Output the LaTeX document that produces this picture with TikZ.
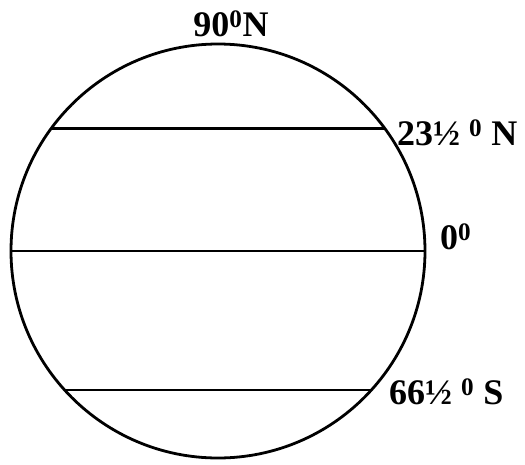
\documentclass[tikz,border=0pt]{standalone}
\usepackage{fontspec}
\setmainfont{Liberation Serif}
\usetikzlibrary{calc}

\begin{document}
\begin{tikzpicture}[x=1pt, y=-1pt, every node/.style={font=\bfseries\fontsize{36}{38}\selectfont, inner sep=0pt}]
  \useasboundingbox (0,0) rectangle (525,464);
  \coordinate (c) at (218,251);
  \draw[line width=2.8pt] (c) circle[radius=207];
  \draw[line width=2.8pt] ($(c)+(-143.6:207)$) -- ($(c)+(-36.4:207)$);
  \draw[line width=2.8pt] ($(c)+(180:207)$) -- ($(c)+(0:207)$);
  \draw[line width=2.8pt] ($(c)+(137.8:207)$) -- ($(c)+(42.2:207)$);
  \node (np) at (231,24) {90\textsuperscript{0}N};
  \node[anchor=west] (tc) at (397,133) {23½ \textsuperscript{0} N};
  \node[anchor=west] (eq) at (440,237) {0\textsuperscript{0}};
  \node[anchor=west] (ta) at (389,392) {66½ \textsuperscript{0} S};
\end{tikzpicture}
\end{document}
